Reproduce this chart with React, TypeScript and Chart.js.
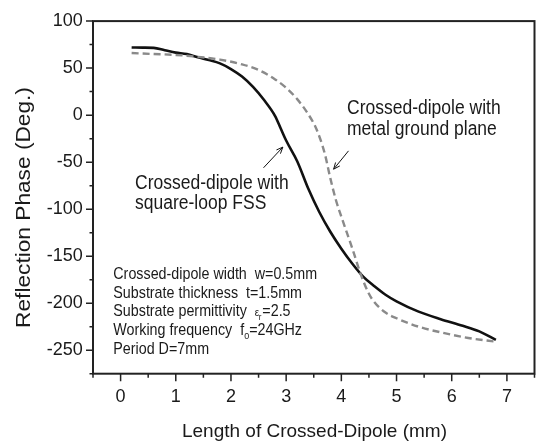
import React, { useEffect, useRef } from "react";
import { Chart, registerables } from "chart.js";
Chart.register(...registerables);

// Crossed-dipole with square-loop FSS (solid black)
const fssX = [0.2, 0.4, 0.6, 0.8, 1.0, 1.2, 1.4, 1.6, 1.8, 2.0, 2.2, 2.4, 2.6, 2.8, 2.9, 3.0, 3.2, 3.4, 3.6, 3.8, 4.0, 4.2, 4.4, 4.6, 4.8, 5.0, 5.4, 5.8, 6.2, 6.5, 6.8];
const fssY = [72, 71.8, 71.5, 69, 66.5, 65, 61.5, 58.5, 55, 49, 41, 30, 16, -1, -14, -27, -49, -78, -103, -124, -142, -158, -172, -182, -191, -198, -209, -217, -224, -230, -239];

// Crossed-dipole with metal ground plane (dashed grey)
const groundX = [0.2, 0.6, 1.0, 1.4, 1.8, 2.2, 2.5, 2.8, 3.0, 3.2, 3.4, 3.55, 3.7, 3.8, 3.9, 4.0, 4.1, 4.2, 4.35, 4.5, 4.6, 4.8, 5.0, 5.4, 5.8, 6.3, 6.8];
const groundY = [66, 65, 64, 62, 59, 54, 48, 38, 29, 17, 1, -15, -41, -67, -90, -108, -125, -142, -169, -190, -199, -210, -216, -225, -231, -237, -241];

const xTickValues = [0, 1, 2, 3, 4, 5, 6, 7];
const xMinorValues = [-0.5, 0.5, 1.5, 2.5, 3.5, 4.5, 5.5, 6.5, 7.5];
const yTickValues = [-250, -200, -150, -100, -50, 0, 50, 100];
const yMinorValues = [-275, -225, -175, -125, -75, -25, 25, 75];

const xTitle = "Length of Crossed-Dipole (mm)";
const yTitle = "Reflection Phase (Deg.)";
const fssLabel = ["Crossed-dipole with", "square-loop FSS"];
const groundLabel = ["Crossed-dipole with", "metal ground plane"];

// arrows in data coordinates: [tailX, tailY, headX, headY]
const fssArrow = [2.59, -56, 2.94, -34];
const groundArrow = [4.13, -38, 3.86, -57.5];

const FONT = "'Liberation Sans', Arial, sans-serif";

function stretchedText(ctx: CanvasRenderingContext2D, text: string, x: number, y: number, size: number, sy: number) {
  ctx.save();
  ctx.translate(x, y);
  ctx.scale(1, sy);
  ctx.font = `${size}px ${FONT}`;
  ctx.fillText(text, 0, 0);
  ctx.restore();
}

function arrow(ctx: CanvasRenderingContext2D, x1: number, y1: number, x2: number, y2: number) {
  const a = Math.atan2(y2 - y1, x2 - x1);
  const L = 7, W = 0.4;
  ctx.beginPath();
  ctx.moveTo(x1, y1);
  ctx.lineTo(x2, y2);
  ctx.moveTo(x2 - L * Math.cos(a - W), y2 - L * Math.sin(a - W));
  ctx.lineTo(x2, y2);
  ctx.lineTo(x2 - L * Math.cos(a + W), y2 - L * Math.sin(a + W));
  ctx.stroke();
}

const decorPlugin = {
  id: "decor",
  afterDraw(chart: any) {
    const ctx: CanvasRenderingContext2D = chart.ctx;
    const xs = chart.scales.x;
    const ys = chart.scales.y;
    const { left, right, top, bottom } = chart.chartArea;
    ctx.save();
    ctx.strokeStyle = "#222";
    ctx.lineWidth = 1.5;
    ctx.beginPath();
    for (const v of xTickValues) {
      const p = xs.getPixelForValue(v);
      ctx.moveTo(p, bottom);
      ctx.lineTo(p, bottom + 7.5);
    }
    for (const v of xMinorValues) {
      const p = xs.getPixelForValue(v);
      ctx.moveTo(p, bottom);
      ctx.lineTo(p, bottom + 4);
    }
    for (const v of yTickValues) {
      const p = ys.getPixelForValue(v);
      ctx.moveTo(left, p);
      ctx.lineTo(left - 7, p);
    }
    for (const v of yMinorValues) {
      const p = ys.getPixelForValue(v);
      ctx.moveTo(left, p);
      ctx.lineTo(left - 3.5, p);
    }
    ctx.stroke();
    ctx.lineWidth = 2;
    ctx.strokeRect(left, top, right - left, bottom - top);

    // arrows
    ctx.lineWidth = 1;
    ctx.strokeStyle = "#111";
    for (const a of [fssArrow, groundArrow]) {
      arrow(ctx, xs.getPixelForValue(a[0]), ys.getPixelForValue(a[1]), xs.getPixelForValue(a[2]), ys.getPixelForValue(a[3]));
    }

    ctx.fillStyle = "#1a1a1a";
    ctx.textAlign = "left";
    ctx.textBaseline = "alphabetic";
    // curve labels
    stretchedText(ctx, fssLabel[0], 135, 189.3, 17.5, 1.12);
    stretchedText(ctx, fssLabel[1], 135, 208.5, 17.5, 1.12);
    stretchedText(ctx, groundLabel[0], 347, 113.5, 17.5, 1.12);
    stretchedText(ctx, groundLabel[1], 347, 134.8, 17.5, 1.12);

    // parameter block
    const px = 113.3;
    const fs = 14.3;
    const sy = 1.1;
    const base = [279, 297.6, 316.3, 335.2, 354.3];
    ctx.font = `${fs}px ${FONT}`;
    stretchedText(ctx, "Crossed-dipole width  w=0.5mm", px, base[0], fs, sy);
    stretchedText(ctx, "Substrate thickness  t=1.5mm", px, base[1], fs, sy);
    // line 3 with epsilon_r
    let s = "Substrate permittivity  ";
    stretchedText(ctx, s, px, base[2], fs, sy);
    ctx.font = `${fs}px ${FONT}`;
    let cx = px + ctx.measureText(s).width;
    stretchedText(ctx, "\u03b5", cx, base[2], 10, sy);
    ctx.font = `10px ${FONT}`;
    cx += ctx.measureText("\u03b5").width;
    stretchedText(ctx, "r", cx - 0.5, base[2] + 4, 8, sy);
    ctx.font = `8px ${FONT}`;
    cx += ctx.measureText("r").width + 0.5;
    stretchedText(ctx, "=2.5", cx, base[2], fs, sy);
    // line 4 with f_0
    s = "Working frequency  f";
    stretchedText(ctx, s, px, base[3], fs, sy);
    ctx.font = `${fs}px ${FONT}`;
    cx = px + ctx.measureText(s).width;
    stretchedText(ctx, "0", cx, base[3] + 4, 9, sy);
    ctx.font = `9px ${FONT}`;
    cx += ctx.measureText("0").width;
    stretchedText(ctx, "=24GHz", cx, base[3], fs, sy);
    stretchedText(ctx, "Period D=7mm", px, base[4], fs, sy);

    // axis titles
    ctx.textAlign = "center";
    ctx.font = `19px ${FONT}`;
    ctx.fillText(xTitle, 314.5, 436.7);
    ctx.save();
    ctx.translate(30, 207.5);
    ctx.rotate(-Math.PI / 2);
    ctx.scale(1.08, 1);
    ctx.font = `21px ${FONT}`;
    ctx.fillText(yTitle, 0, 0);
    ctx.restore();

    ctx.restore();
  },
};

export default function App() {
  const ref = useRef<HTMLCanvasElement>(null);
  useEffect(() => {
    document.body.style.background = "#ffffff";
    const canvas = ref.current!;
    const chart = new Chart(canvas, {
      type: "scatter",
      data: {
        datasets: [
          {
            label: groundLabel.join(" "),
            data: groundX.map((x, i) => ({ x, y: groundY[i] })),
            showLine: true,
            borderColor: "#8a8a8a",
            borderWidth: 2.4,
            borderDash: [7, 4],
            pointRadius: 0,
            cubicInterpolationMode: "monotone",
          },
          {
            label: fssLabel.join(" "),
            data: fssX.map((x, i) => ({ x, y: fssY[i] })),
            showLine: true,
            borderColor: "#111111",
            borderWidth: 2.6,
            pointRadius: 0,
            cubicInterpolationMode: "monotone",
          },
        ],
      },
      options: {
        responsive: false,
        animation: false,
        devicePixelRatio: 1,
        layout: { padding: { top: 14.3, right: 1.5, left: 0, bottom: 0 } },
        plugins: { legend: { display: false }, tooltip: { enabled: false } },
        scales: {
          x: {
            type: "linear",
            min: -0.5,
            max: 7.5,
            grid: { display: false, drawTicks: false },
            border: { display: false },
            afterBuildTicks: (s: any) => {
              s.ticks = xTickValues.map((v) => ({ value: v }));
            },
            afterFit: (s: any) => {
              s.height = 71.3;
            },
            ticks: {
              padding: 13,
              maxRotation: 0,
              autoSkip: false,
              color: "#1a1a1a",
              font: { family: FONT, size: 18 },
            },
          },
          y: {
            type: "linear",
            min: -275,
            max: 100,
            grid: { display: false, drawTicks: false },
            border: { display: false },
            afterBuildTicks: (s: any) => {
              s.ticks = yTickValues.map((v) => ({ value: v }));
            },
            afterFit: (s: any) => {
              s.width = 93;
            },
            ticks: {
              padding: 10.3,
              autoSkip: false,
              color: "#1a1a1a",
              font: { family: FONT, size: 18 },
            },
          },
        },
      },
      plugins: [decorPlugin],
    } as any);
    return () => chart.destroy();
  }, []);
  return (
    <canvas
      ref={ref}
      width={536}
      height={445}
      style={{ position: "fixed", left: 0, top: 0, width: 536, height: 445 }}
    />
  );
}
